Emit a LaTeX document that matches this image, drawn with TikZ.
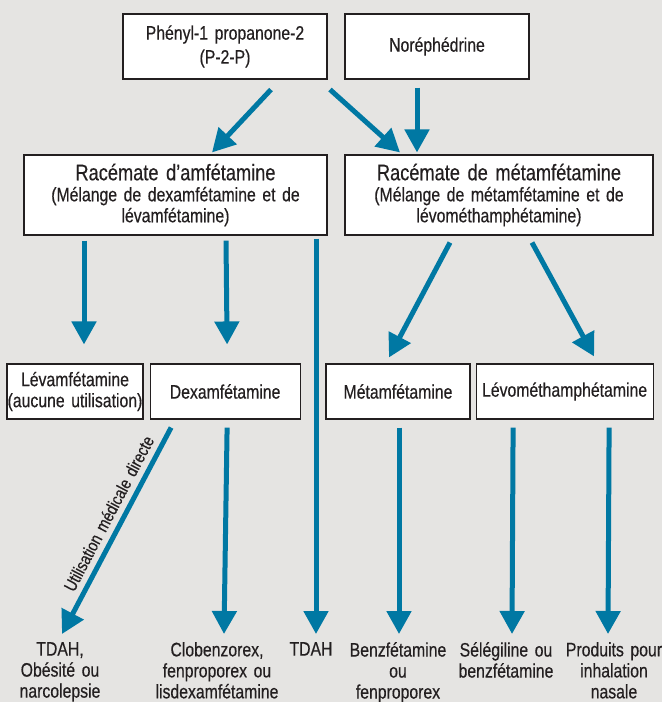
\documentclass[tikz,border=0pt]{standalone}
\usepackage{fontspec}
\setmainfont{Liberation Sans}[FakeStretch=0.81,WordSpace=1.5,FakeBold=0.4]
\usetikzlibrary{calc,positioning,arrows.meta}
\definecolor{bggrey}{RGB}{229,228,226}
\definecolor{flowblue}{RGB}{0,120,163}
\definecolor{inkgrey}{RGB}{35,31,32}

\begin{document}
\begin{tikzpicture}[x=1pt,y=-1pt,node distance=6pt and 6pt]

\tikzset{box/.style={draw=inkgrey,fill=white,line width=1.1pt,inner sep=0pt,align=center,text=inkgrey,font=\fontsize{19.5}{21}\selectfont},
outcome/.style={anchor=north,inner sep=0pt,align=center,text=inkgrey,font=\fontsize{19.5}{21}\selectfont},
medlabel/.style={inner sep=0pt,text=inkgrey,font=\fontsize{17.5}{18}\selectfont},
flow/.style={draw=flowblue,line width=5pt,-{Triangle[width=24pt,length=23pt]}}}

\useasboundingbox (0,0) rectangle (662,702);
\fill[bggrey] (0,0) rectangle (662,702);

% precursors
\node[box,font=\fontsize{19.5}{24}\selectfont,minimum width=204pt,minimum height=65pt] (phenyl) at (225,46.5) {Phényl-1 propanone-2\\(P-2-P)};
\node[box,minimum width=184pt,minimum height=65pt] (norephedrine) at (437,46.5) {Noréphédrine};

% racemates
\node[box,minimum width=303pt,minimum height=80pt] (racamf) at (175.5,195) {{\fontsize{22.5}{22}\selectfont Racémate d’amfétamine}\\(Mélange de dexamfétamine et de\\lévamfétamine)};
\node[box,minimum width=308pt,minimum height=80pt] (racmet) at (499,195) {{\fontsize{22.5}{22}\selectfont Racémate de métamfétamine}\\(Mélange de métamfétamine et de\\lévométhamphétamine)};

% enantiomers
\node[box,minimum width=136pt,minimum height=55pt] (levamf) at (75,391.5) {Lévamfétamine\\(aucune utilisation)};
\node[box,minimum width=150pt,minimum height=55pt,right=6pt of levamf] (dexamf) {Dexamfétamine};
\node[box,minimum width=144pt,minimum height=55pt] (metamf) at (398,391.5) {Métamfétamine};
\node[box,minimum width=177pt,minimum height=55pt,right=5pt of metamf] (levomet) {Lévométhamphétamine};

% uses
\node[outcome] (tdahA) at (60,642) {TDAH,\\Obésité ou\\narcolepsie};
\node[outcome] (clobenz) at (217,642) {Clobenzorex,\\fenproporex ou\\lisdexamfétamine};
\node[outcome] (tdahB) at (311,642) {TDAH};
\node[outcome] (benzf) at (398,642) {Benzfétamine\\ou\\fenproporex};
\node[outcome] (selegil) at (506,642) {Sélégiline ou\\benzfétamine};
\node[outcome] (produits) at (614,642) {Produits pour\\inhalation\\nasale};

% arrows
\draw[flow] ($(phenyl.south)+(46,10)$) -- ($(racamf.north)+(36.5,-2)$);
\draw[flow] ($(phenyl.south)+(105,10)$) -- ($(racmet.north)+(-99,-2)$);
\draw[flow] ($(norephedrine.south)+(-20,8)$) -- ($(racmet.north)+(-82,-2)$);
\draw[flow] ($(racamf.south)+(-91.5,5)$) -- ($(levamf.north)+(9,-19)$);
\draw[flow] ($(racamf.south)+(50.5,5)$) -- ($(dexamf.north)+(2,-19)$);
\draw[flow] ($(racamf.south)+(140.5,3)$) -- ($(tdahB.north)+(5,-8)$);
\draw[flow] ($(racmet.south)+(-49,7)$) -- ($(metamf.north)+(-9,-6)$);
\draw[flow] ($(racmet.south)+(33,7)$) -- ($(levomet.north)+(29.5,-7)$);
\draw[flow] ($(dexamf.south)+(-54,8)$) -- node[medlabel,sloped,above=6pt,pos=0.45] {Utilisation médicale directe} ($(tdahA.north)+(2,-8)$);
\draw[flow] ($(dexamf.south)+(2,8)$) -- ($(clobenz.north)+(7,-8)$);
\draw[flow] ($(metamf.south)+(1,8)$) -- ($(benzf.north)+(1,-8)$);
\draw[flow] ($(levomet.south)+(-51.5,8)$) -- ($(selegil.north)+(6,-8)$);
\draw[flow] ($(levomet.south)+(44.5,8)$) -- ($(produits.north)+(-6,-8)$);

\end{tikzpicture}
\end{document}
